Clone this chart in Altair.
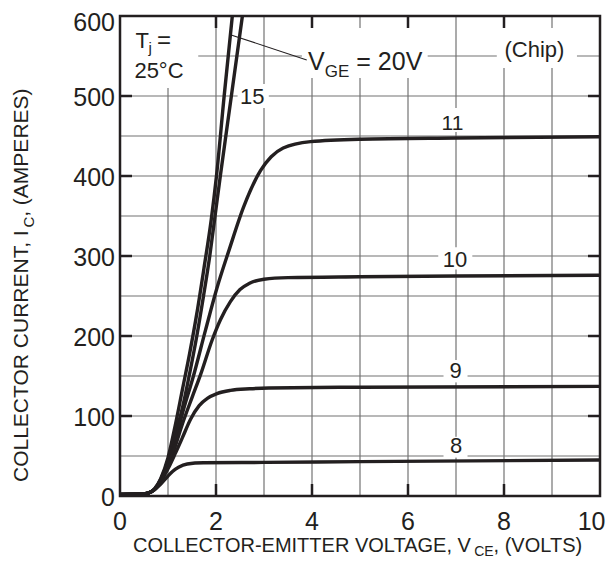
import altair as alt
import pandas as pd

FONT = "Liberation Sans"
INK = "#231f20"
GRID = "#737373"

# ---------------- data ----------------
series = ["20", "15", "11", "10", "9", "8"]

v20 = [0, 0.45, 0.6, 0.72, 0.85, 1.0, 1.15, 1.3, 1.45, 1.6, 1.75, 1.9, 2.01, 2.17, 2.34]
i20 = [2, 2.5, 4, 9, 22, 48, 88, 133, 178, 228, 285, 345, 400, 500, 600]

v15 = [0, 0.45, 0.6, 0.72, 0.85, 1.0, 1.15, 1.28, 1.44, 1.6, 1.74, 1.87, 1.98, 2.09, 2.32, 2.55]
i15 = [2, 2.5, 4, 9, 21, 44, 78, 105, 150, 200, 250, 300, 350, 400, 500, 600]

v11 = [0, 0.45, 0.6, 0.72, 0.85, 1.0, 1.15, 1.3, 1.53, 1.78, 2.02, 2.27, 2.58, 2.93, 3.15, 3.4, 3.97, 5, 7, 10]
i11 = [2, 2.5, 4, 8, 20, 40, 68, 103, 150, 207, 260, 307, 362, 407, 424, 435, 443, 446, 447.5, 449]

v10 = [0, 0.45, 0.6, 0.72, 0.85, 1.0, 1.15, 1.3, 1.5, 1.68, 1.92, 2.09, 2.3, 2.5, 2.7, 3.0, 3.5, 5, 7, 10]
i10 = [2, 2.5, 4, 8, 19, 38, 62, 90, 123, 152, 195, 220, 243, 258, 266, 271, 273, 274, 275, 276]

v9 = [0, 0.45, 0.6, 0.72, 0.85, 1.0, 1.15, 1.3, 1.47, 1.65, 1.82, 2.02, 2.3, 2.7, 3.1, 5, 10]
i9 = [2, 2.5, 4, 8, 18, 34, 53, 73, 96, 113, 122, 128, 132, 134, 135, 136, 137]

v8 = [0, 0.45, 0.6, 0.72, 0.85, 1.0, 1.1, 1.22, 1.4, 1.74, 3, 5, 10]
i8 = [2, 2.5, 4, 8, 15, 25, 31, 36, 40, 41.5, 42, 43, 45]

x_labels = [0, 2, 4, 6, 8]
x_last = [10]
y_labels = [0, 100, 200, 300, 400, 500]
y_last = [600]
grid_v = [1, 2, 3, 4, 5, 6, 7, 8, 9]
grid_i = [50, 100, 150, 200, 250, 300, 350, 400, 450, 500, 550]
tick_v = [2, 4, 6, 8]
tick_i = [100, 200, 300, 400, 500]

# curve labels (centered)
lab_text = ["(Chip)", "15", "11", "10", "9", "8"]
lab_v = [8.635, 2.756, 6.927, 6.98, 6.99, 7.0]
lab_i = [549, 490, 457.5, 286, 147.5, 53.75]
lab_size = [22, 22, 21, 22, 22, 22]

# annotation pieces with subscripts (left aligned)
ann_text = ["T", "j", "=", "25°C", "V", "GE", "= 20V"]
ann_v = [0.323, 0.594, 0.77, 0.30, 3.917, 4.265, 4.923]
ann_i = [559.6, 553.75, 559.6, 522.5, 532.5, 523.75, 532.5]
ann_size = [22, 15, 24, 22, 25, 17, 25]

# white label backgrounds
box_v = [0, 3.79, 7.85, 2.45, 6.65, 6.63, 6.74, 6.74]
box_v2 = [1.63, 6.41, 9.52, 3.1, 7.3, 7.34, 7.24, 7.24]
box_i = [510, 522.5, 535, 485, 455, 283, 142, 48]
box_i2 = [600, 585, 585, 515, 485, 311, 170, 74]

# leader line from "VGE = 20V" to the 20 V curve
lead_v, lead_v2 = [2.33], [3.89]
lead_i, lead_i2 = [576], [545]

# ---------------- tables ----------------
rows = []
for name, vs, cs in zip(series, [v20, v15, v11, v10, v9, v8], [i20, i15, i11, i10, i9, i8]):
    for k, (v, c) in enumerate(zip(vs, cs)):
        rows.append({"g": name, "k": k, "v": v, "i": c})
curves = pd.DataFrame(rows)

xs = alt.Scale(domain=[0, 10], nice=False, zero=False)
ys = alt.Scale(domain=[0, 600], nice=False, zero=False)

def X(f):
    return alt.X(f, type="quantitative", scale=xs, axis=None)

def Y(f):
    return alt.Y(f, type="quantitative", scale=ys, axis=None)

grid_x = alt.Chart(pd.DataFrame({"v": grid_v})).mark_rule(color=GRID, strokeWidth=1.2).encode(x=X("v"))
grid_y = alt.Chart(pd.DataFrame({"i": grid_i})).mark_rule(color=GRID, strokeWidth=1.2).encode(y=Y("i"))

boxes = alt.Chart(pd.DataFrame({"v": box_v, "v2": box_v2, "i": box_i, "i2": box_i2})).mark_rect(
    color="white").encode(x=X("v"), x2="v2:Q", y=Y("i"), y2="i2:Q")

lines = alt.Chart(curves).mark_line(color=INK, strokeWidth=3.4, interpolate="monotone", clip=True).encode(
    x=X("v"), y=Y("i"), detail="g:N", order="k:Q")

leader = alt.Chart(pd.DataFrame({"v": lead_v, "v2": lead_v2, "i": lead_i, "i2": lead_i2})).mark_rule(
    color=INK, strokeWidth=1.1).encode(x=X("v"), x2="v2:Q", y=Y("i"), y2="i2:Q")

tv = pd.DataFrame({"v": tick_v})
ti = pd.DataFrame({"i": tick_i})
tick_bot = alt.Chart(tv.assign(a=0, b=15)).mark_rule(color=INK, strokeWidth=2.5).encode(
    x=X("v"), y=Y("a"), y2="b:Q")
tick_top = alt.Chart(tv.assign(a=585, b=600)).mark_rule(color=INK, strokeWidth=2.5).encode(
    x=X("v"), y=Y("a"), y2="b:Q")
tick_left = alt.Chart(ti.assign(a=0, b=0.25)).mark_rule(color=INK, strokeWidth=2.5).encode(
    y=Y("i"), x=X("a"), x2="b:Q")
tick_right = alt.Chart(ti.assign(a=9.75, b=10)).mark_rule(color=INK, strokeWidth=2.5).encode(
    y=Y("i"), x=X("a"), x2="b:Q")

border = alt.Chart(pd.DataFrame({"v": [0], "v2": [10], "i": [0], "i2": [600]})).mark_rect(
    filled=False, stroke=INK, strokeWidth=2.5).encode(x=X("v"), x2="v2:Q", y=Y("i"), y2="i2:Q")

# tick labels
def tick_text(vals, horizontal, **kw):
    if horizontal:
        df = pd.DataFrame({"v": vals, "i": [0] * len(vals), "t": [str(x) for x in vals]})
    else:
        df = pd.DataFrame({"i": vals, "v": [0] * len(vals), "t": [str(x) for x in vals]})
    return alt.Chart(df).mark_text(font=FONT, color=INK, fontSize=25, clip=False, **kw).encode(
        x=X("v"), y=Y("i"), text="t:N")

xlab = tick_text(x_labels, True, align="center", baseline="top", dy=14)
xlab_last = tick_text(x_last, True, align="right", baseline="top", dx=5.5, dy=14)
ylab = tick_text(y_labels, False, align="right", baseline="middle", dx=-5, dy=2)
ylab_last = tick_text(y_last, False, align="right", baseline="middle", dx=-5, dy=6.5)

labels = alt.Chart(pd.DataFrame({"t": lab_text, "v": lab_v, "i": lab_i, "s": lab_size})).mark_text(
    font=FONT, color=INK, align="center", baseline="alphabetic").encode(
    x=X("v"), y=Y("i"), text="t:N", size=alt.Size("s:Q", scale=None, legend=None))

anns = alt.Chart(pd.DataFrame({"t": ann_text, "v": ann_v, "i": ann_i, "s": ann_size})).mark_text(
    font=FONT, color=INK, align="left", baseline="alphabetic").encode(
    x=X("v"), y=Y("i"), text="t:N", size=alt.Size("s:Q", scale=None, legend=None))

# axis titles with subscripts (pixel offsets from the plot origin)
one = pd.DataFrame({"z": [0]})

def title_piece(txt, px, py, size, angle=0):
    return alt.Chart(one).mark_text(text=txt, font=FONT, color=INK, fontSize=size, align="left",
                                    baseline="alphabetic", angle=angle).encode(
        x=alt.value(px), y=alt.value(py))

xt = [title_piece("COLLECTOR-EMITTER VOLTAGE, V", 13, 536, 20),
      title_piece("CE", 354.2, 540, 14),
      title_piece(", (VOLTS)", 373.6, 536, 20)]
yt = [title_piece("COLLECTOR CURRENT, I", -92, 466, 21, 270),
      title_piece("C", -86, 211.6, 15, 270),
      title_piece(", (AMPERES)", -92, 200.8, 21, 270)]

chart = alt.layer(grid_x, grid_y, boxes, lines, leader, tick_bot, tick_top, tick_left, tick_right,
                  border, xlab, xlab_last, ylab, ylab_last, labels, anns, *xt, *yt).properties(
    width=480, height=480,
    padding={"left": 112, "top": 8, "right": 6, "bottom": 64},
    autosize=alt.AutoSizeParams(type="none"),
).configure_view(stroke=None)

chart.save("out.html", embed_options={"renderer": "svg", "actions": False})
